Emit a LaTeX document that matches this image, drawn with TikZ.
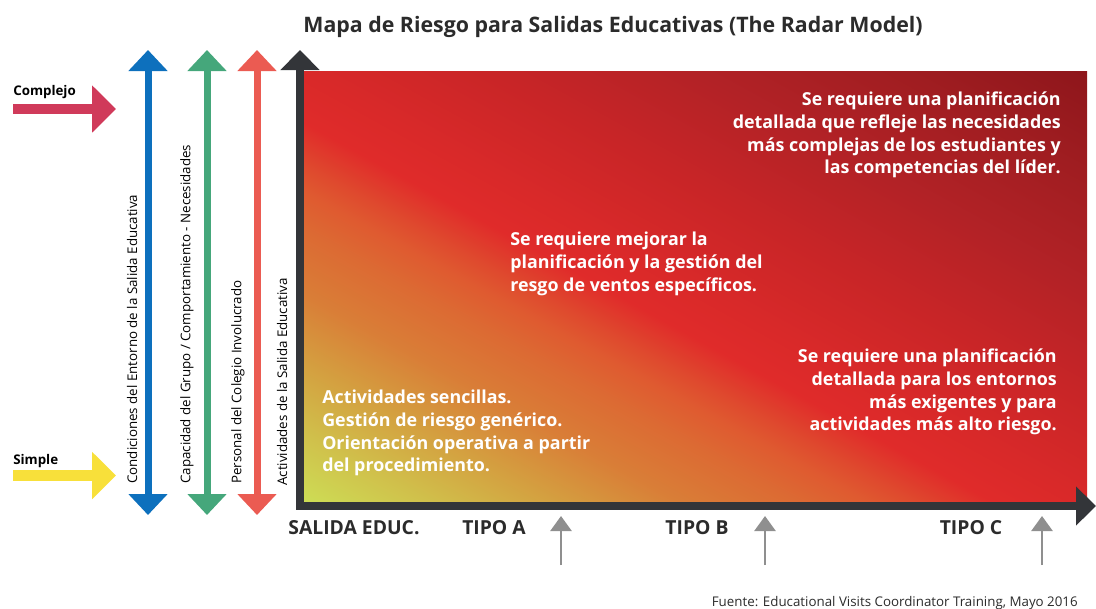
\documentclass[tikz,border=0pt]{standalone}
\usepackage{fontspec}
\setmainfont{Open Sans}
\usepackage{xcolor}
\definecolor{radarBlue}{HTML}{0D70BD}
\definecolor{radarGreen}{HTML}{45A77B}
\definecolor{radarSalmon}{HTML}{EB5B52}
\definecolor{radarDark}{HTML}{333539}
\definecolor{radarCrimson}{HTML}{D03A5A}
\definecolor{radarYellow}{HTML}{F8E03A}
\definecolor{radarGray}{HTML}{8F8F8F}
\definecolor{radarTitle}{HTML}{2B2B2B}
\usepackage{tikz}
\usetikzlibrary{arrows.meta,positioning}
\pgfdeclarehorizontalshading{riskmap}{100bp}{%
  rgb(0bp)=(0.804,0.867,0.333); rgb(25bp)=(0.804,0.867,0.333);
  rgb(29bp)=(0.816,0.753,0.294); rgb(33bp)=(0.831,0.627,0.251);
  rgb(37bp)=(0.851,0.494,0.216); rgb(40.75bp)=(0.863,0.416,0.200);
  rgb(43bp)=(0.875,0.353,0.188); rgb(44.5bp)=(0.875,0.290,0.180);
  rgb(47bp)=(0.878,0.169,0.165); rgb(50bp)=(0.851,0.161,0.161);
  rgb(56bp)=(0.784,0.145,0.153); rgb(62.5bp)=(0.698,0.133,0.149);
  rgb(69bp)=(0.627,0.114,0.129); rgb(75bp)=(0.557,0.086,0.106);
  rgb(100bp)=(0.557,0.086,0.106)}
\tikzset{factor/.style={line width=5.25pt,{Triangle[width=28.5pt,length=15.75pt]}-{Triangle[width=28.5pt,length=15.75pt]}}}
\tikzset{factor label/.style={rotate=90,anchor=west,inner sep=0pt,font=\fontsize{10}{12}\selectfont}}
\tikzset{level/.style={line width=7.8pt,-{Triangle[width=34.5pt,length=18pt]}}}
\tikzset{level label/.style={anchor=west,inner sep=0pt,font=\fontsize{10}{12}\selectfont\bfseries}}
\tikzset{type/.style={inner sep=0pt,font=\fontsize{14.5}{17}\selectfont\bfseries,text=radarTitle}}
\tikzset{type mark/.style={draw=radarGray,line width=1.9pt,-{Triangle[width=15.75pt,length=11.25pt]}}}
\tikzset{advice/.style={inner sep=0pt,text=white,font=\fontsize{13.4}{17}\selectfont\bfseries}}

\begin{document}
\begin{tikzpicture}[x=0.75pt,y=-0.75pt]
\useasboundingbox (0,0) rectangle (1096,608);
\node[font=\fontsize{16}{19}\selectfont\bfseries,text=radarTitle](title) at (613,27){Mapa de Riesgo para Salidas Educativas (The Radar Model)};
% risk field: shading laid along the diagonal of a square, then stretched
\begin{scope}[transform canvas={shift={(304,502)},xscale=5.8725,yscale=3.2325}]
  \clip (0pt,0pt) rectangle (100pt,100pt);
  \begin{scope}[transform canvas={rotate around={45:(50pt,50pt)}}]
    \shade[shading=riskmap] (-20.71pt,-20.71pt) rectangle (120.71pt,120.71pt);
  \end{scope}
\end{scope}
\coordinate (origin) at (300,506);
\coordinate (ytip) at (300,50);
\coordinate (xtip) at (1096,506);
\draw[radarDark,line width=6pt,line join=miter,{Triangle[width=28.5pt,length=15pt]}-{Triangle[width=28.5pt,length=15pt]}] (ytip) -- (origin) -- (xtip);
% factors
\draw[factor,radarBlue] (148,50) -- (148,515);
\draw[factor,radarGreen] (207,50) -- (207,515);
\draw[factor,radarSalmon] (257,50) -- (257,515);
\node[factor label](entorno) at (132,484){Condiciones del Entorno de la Salida Educativa};
\node[factor label](grupo) at (187,484){Capacidad del Grupo / Comportamiento - Necesidades};
\node[factor label](personal) at (238,484){Personal del Colegio Involucrado};
\node[factor label](actividades) at (282,486){Actividades de la Salida Educativa};
% levels
\node[level label](complejo) at (13,92){Complejo};
\node[level label](simple) at (13,461){Simple};
\draw[level,radarCrimson] (13,109) -- (116,109);
\draw[level,radarYellow] (13,475.5) -- (116,475.5);
% advice
\node[advice,align=right,anchor=north east](tipoCtext) at (1061,92){Se requiere una planificación\\detallada que refleje las necesidades\\más complejas de los estudiantes y\\las competencias del líder.};
\node[advice,align=left,anchor=north west](tipoBtext) at (510,232){Se requiere mejorar la\\planificación y la gestión del\\resgo de ventos específicos.};
\node[advice,align=right,anchor=north east](tipoCenv) at (1057,349){Se requiere una planificación\\detallada para los entornos\\más exigentes y para\\actividades más alto riesgo.};
\node[advice,align=left,anchor=north west](tipoAtext) at (322,390){Actividades sencillas.\\Gestión de riesgo genérico.\\Orientación operativa a partir\\del procedimiento.};
% types
\node[type](salida) at (354,528){SALIDA EDUC.};
\node[type](tipoA) at (494,528){TIPO A};
\node[type](tipoB) at (697,528){TIPO B};
\node[type](tipoC) at (971,528){TIPO C};
\draw[type mark] (561,565) -- (561,516);
\draw[type mark] (765,565) -- (765,516);
\draw[type mark] (1042,565) -- (1042,516);
\node[anchor=east,inner sep=0pt,font=\fontsize{10}{12}\selectfont,text=radarTitle](fuente) at (1078,603){Fuente: Educational Visits Coordinator Training, Mayo 2016};
\end{tikzpicture}
\end{document}
